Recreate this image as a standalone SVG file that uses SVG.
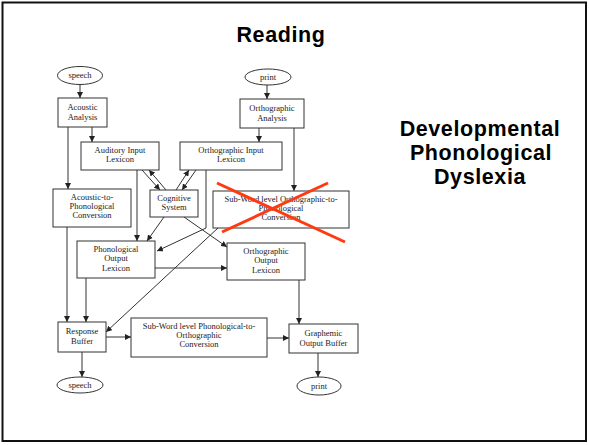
<svg xmlns="http://www.w3.org/2000/svg" width="589" height="445" viewBox="0 0 589 445">
<style>
.box{fill:#fff;stroke:#333;stroke-width:1}
.t{font-family:"Liberation Serif","Times New Roman",serif;font-size:8.5px;fill:#222;text-anchor:middle}
.h{font-family:"Liberation Sans",Arial,sans-serif;font-weight:bold;fill:#000;text-anchor:middle;font-size:21.5px;letter-spacing:0.6px}
.c{stroke:#333;stroke-width:1;fill:none;marker-end:url(#ah)}
.x{stroke:#ff3a10;stroke-width:3;stroke-linecap:butt}
</style>
<defs>
<marker id="ah" viewBox="0 0 10 10" refX="10" refY="5" markerWidth="6" markerHeight="6" markerUnits="userSpaceOnUse" orient="auto">
<path d="M0,0 L10,5 L0,10 z" fill="#222"/>
</marker>
</defs>
<rect x="0" y="0" width="589" height="445" fill="#fff"/>
<rect x="2.5" y="2.5" width="583.5" height="438.5" fill="none" stroke="#111" stroke-width="2"/>
<text class="h" x="281" y="42">Reading</text>
<g id="title-dyslexia">
<text class="h" x="480" y="136">Developmental</text>
<text class="h" x="481" y="160">Phonological</text>
<text class="h" x="480" y="184">Dyslexia</text>
</g>

<g id="connectors">
<line class="c" x1="80" y1="84" x2="80" y2="98"/>
<line class="c" x1="267" y1="85" x2="267" y2="99"/>
<line class="c" x1="92" y1="127" x2="92" y2="142"/>
<line class="c" x1="259" y1="128" x2="259" y2="142"/>
<line class="c" x1="68" y1="127" x2="68" y2="189"/>
<line class="c" x1="294" y1="128" x2="294" y2="191"/>
<line class="c" x1="142" y1="170" x2="160" y2="190"/>
<line class="c" x1="166" y1="190" x2="149" y2="170"/>
<line class="c" x1="176" y1="190" x2="189" y2="170"/>
<line class="c" x1="196" y1="170" x2="182" y2="190"/>
<line class="c" x1="137" y1="170" x2="137" y2="241"/>
<polyline class="c" points="206,170 206,228 157,251"/>
<line class="c" x1="164" y1="217" x2="147" y2="241"/>
<line class="c" x1="184" y1="217" x2="227" y2="247"/>
<line class="c" x1="218" y1="228" x2="106" y2="332"/>
<line class="c" x1="155" y1="268" x2="227" y2="268"/>
<line class="c" x1="67" y1="227" x2="67" y2="322"/>
<line class="c" x1="86" y1="278" x2="86" y2="322"/>
<line class="c" x1="299" y1="280" x2="299" y2="324"/>
<line class="c" x1="106" y1="337" x2="131" y2="337"/>
<line class="c" x1="267" y1="338" x2="289" y2="338"/>
<line class="c" x1="82" y1="352" x2="82" y2="377"/>
<line class="c" x1="318" y1="353" x2="318" y2="377"/>
</g>

<g id="speech-in"><ellipse cx="80" cy="75.5" rx="22.5" ry="9" class="box"/><text class="t" x="80" y="78">speech</text></g>
<g id="print-in"><ellipse cx="268" cy="77" rx="23" ry="8" class="box"/><text class="t" x="268" y="80">print</text></g>
<g id="acoustic-analysis"><rect class="box" x="58" y="98" width="49" height="29"/><text class="t" x="82.5" y="110">Acoustic</text><text class="t" x="82.5" y="119.5">Analysis</text></g>
<g id="orthographic-analysis"><rect class="box" x="240" y="99" width="64" height="29"/><text class="t" x="272" y="111">Orthographic</text><text class="t" x="272" y="120.5">Analysis</text></g>
<g id="auditory-input-lexicon"><rect class="box" x="81" y="142" width="78" height="28"/><text class="t" x="120" y="152.5">Auditory Input</text><text class="t" x="120" y="162">Lexicon</text></g>
<g id="orthographic-input-lexicon"><rect class="box" x="180" y="142" width="102" height="28"/><text class="t" x="231" y="152.5">Orthographic Input</text><text class="t" x="231" y="162">Lexicon</text></g>
<g id="acoustic-to-phonological"><rect class="box" x="53" y="189" width="78" height="38"/><text class="t" x="92" y="199.5">Acoustic-to-</text><text class="t" x="92" y="208.5">Phonological</text><text class="t" x="92" y="217.5">Conversion</text></g>
<g id="cognitive-system"><rect class="box" x="150" y="190" width="48" height="27"/><text class="t" x="174" y="200.5">Cognitive</text><text class="t" x="174" y="209.5">System</text></g>
<g id="subword-orth-to-phon"><rect class="box" x="213" y="191" width="136" height="37"/><text class="t" x="281" y="201.5">Sub-Word level Orthographic-to-</text><text class="t" x="281" y="210.5">Phonological</text><text class="t" x="281" y="219.5">Conversion</text></g>
<g id="phonological-output-lexicon"><rect class="box" x="77" y="241" width="78" height="37"/><text class="t" x="116" y="251.5">Phonological</text><text class="t" x="116" y="261">Output</text><text class="t" x="116" y="270.5">Lexicon</text></g>
<g id="orthographic-output-lexicon"><rect class="box" x="227" y="243" width="78" height="37"/><text class="t" x="266" y="253.5">Orthographic</text><text class="t" x="266" y="263">Output</text><text class="t" x="266" y="272.5">Lexicon</text></g>
<g id="response-buffer"><rect class="box" x="58" y="322" width="48" height="30"/><text class="t" x="82" y="334">Response</text><text class="t" x="82" y="343.5">Buffer</text></g>
<g id="subword-phon-to-orth"><rect class="box" x="131" y="318" width="136" height="39"/><text class="t" x="199" y="329">Sub-Word level Phonological-to-</text><text class="t" x="199" y="338">Orthographic</text><text class="t" x="199" y="347">Conversion</text></g>
<g id="graphemic-output-buffer"><rect class="box" x="289" y="324" width="69" height="29"/><text class="t" x="323.5" y="336">Graphemic</text><text class="t" x="323.5" y="345.5">Output Buffer</text></g>
<g id="speech-out"><ellipse cx="80" cy="385" rx="23" ry="8" class="box"/><text class="t" x="80" y="388">speech</text></g>
<g id="print-out"><ellipse cx="319" cy="386" rx="22" ry="9" class="box"/><text class="t" x="319" y="389">print</text></g>

<g id="cross-out">
<line class="x" x1="217" y1="183" x2="345" y2="242"/>
<line class="x" x1="328" y1="183" x2="222" y2="232"/>
</g>
</svg>
